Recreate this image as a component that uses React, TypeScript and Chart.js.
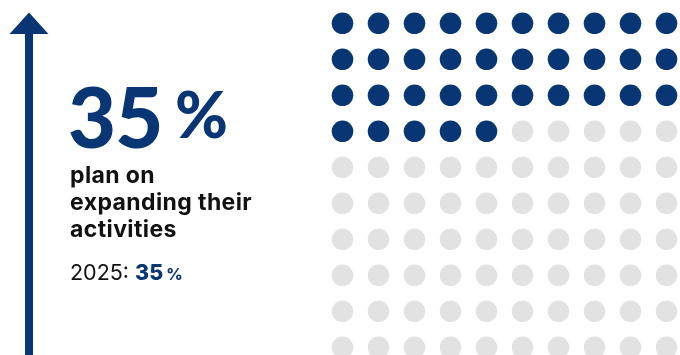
import React, { useEffect, useRef } from "react";
import { Chart, registerables } from "chart.js";

Chart.register(...registerables);

// ---- data ----
const shareLabel = "plan on expanding their activities";
const shareLines = ["plan on", "expanding their", "activities"];
const shareValue = 35; // % (filled dots out of 100)
const compareYear = "2025";
const compareValue = 35;
const gridColumns = 10;
const gridRows = 10;

const BLUE = "#083574";
const GREY = "#e1e2e1";

type Pt = { x: number; y: number };

function buildPoints(): { filled: Pt[]; empty: Pt[] } {
  const filled: Pt[] = [];
  const empty: Pt[] = [];
  for (let i = 0; i < gridColumns * gridRows; i++) {
    const p = { x: i % gridColumns, y: Math.floor(i / gridColumns) };
    if (i < shareValue) filled.push(p);
    else empty.push(p);
  }
  return { filled, empty };
}

const arrowPlugin = {
  id: "arrow",
  beforeDatasetsDraw(chart: any) {
    const ctx = chart.ctx;
    ctx.save();
    ctx.fillStyle = BLUE;
    ctx.fillRect(25, 30, 8, 330);
    ctx.beginPath();
    ctx.moveTo(9.5, 34);
    ctx.lineTo(48.5, 34);
    ctx.lineTo(29, 12.5);
    ctx.closePath();
    ctx.fill();
    ctx.restore();
  },
};

export default function App() {
  const ref = useRef<HTMLCanvasElement>(null);
  useEffect(() => {
    if (!ref.current) return;
    const { filled, empty } = buildPoints();
    const W = 680;
    const H = 355;
    const step = 36;
    const x0 = 342.5;
    const y0 = 23.3;
    const xMin = -x0 / step;
    const yMin = -y0 / step;
    const chart = new Chart(ref.current, {
      type: "scatter",
      data: {
        datasets: [
          {
            label: shareLabel,
            data: filled,
            backgroundColor: BLUE,
            borderWidth: 0,
            pointRadius: 10.8,
            pointHoverRadius: 10.8,
          },
          {
            label: "other",
            data: empty,
            backgroundColor: GREY,
            borderWidth: 0,
            pointRadius: 10.8,
            pointHoverRadius: 10.8,
          },
        ],
      },
      options: {
        animation: false,
        responsive: false,
        maintainAspectRatio: false,
        layout: { padding: 0, autoPadding: false } as any,
        clip: false as any,
        plugins: { legend: { display: false }, tooltip: { enabled: false } },
        scales: {
          x: { type: "linear", display: false, min: xMin, max: xMin + W / step },
          y: { type: "linear", display: false, reverse: true, min: yMin, max: yMin + H / step },
        },
      },
      plugins: [arrowPlugin],
    });
    return () => chart.destroy();
  }, []);

  const bigFont = "Lato, 'Noto Sans', sans-serif";
  const font = "Inter, 'Noto Sans', sans-serif";
  return (
    <div style={{ position: "fixed", left: 0, top: 0, width: 680, height: 355, background: "#fff", overflow: "hidden", fontFamily: font }}>
      <canvas ref={ref} width={680} height={355} style={{ position: "absolute", left: 0, top: 0, width: 680, height: 355 }} />
      <div style={{ position: "absolute", left: 68, top: 75, fontFamily: bigFont, fontSize: 83, lineHeight: "83px", fontWeight: 900, color: BLUE, letterSpacing: -1 }}>
        {shareValue}
      </div>
      <div style={{ position: "absolute", left: 175, top: 82, fontFamily: bigFont, fontSize: 64, lineHeight: "64px", fontWeight: 900, color: BLUE }}>%</div>
      <div style={{ position: "absolute", left: 70, top: 161.5, fontSize: 23, lineHeight: "27px", fontWeight: 700, letterSpacing: 0.4, color: "#111", whiteSpace: "nowrap" }}>
        {shareLines.map((l) => (
          <div key={l}>{l}</div>
        ))}
      </div>
      <div style={{ position: "absolute", left: 70, top: 261, fontSize: 21.5, lineHeight: "22px", color: "#111", whiteSpace: "nowrap" }}>
        {compareYear}:{" "}
        <span style={{ fontWeight: 800, color: BLUE }}>{compareValue}</span>
        <span style={{ fontWeight: 800, color: BLUE, fontSize: 16, marginLeft: 3 }}>%</span>
      </div>
    </div>
  );
}
